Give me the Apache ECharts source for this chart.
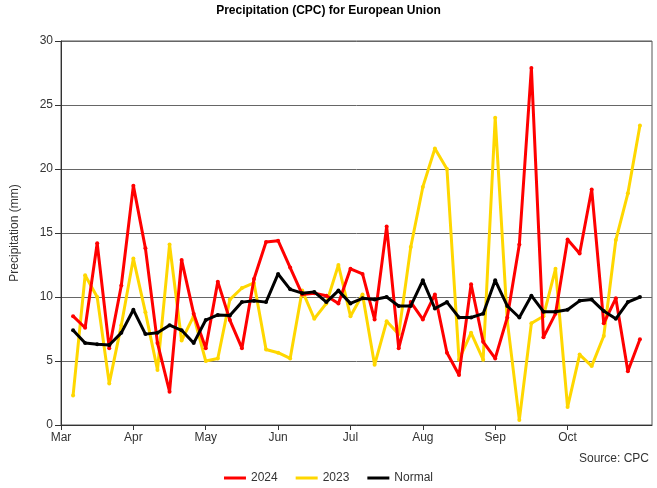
<!DOCTYPE html>
<html>
<head>
<meta charset="utf-8">
<script src="https://cdn.jsdelivr.net/npm/echarts@6/dist/echarts.min.js"></script>
<style>html,body{margin:0;padding:0;background:#fff;}#c{width:657px;height:488px;}</style>
</head>
<body>
<div id="c"></div>
<script>
// Pentad values (mm), Mar through early Nov
const pentads = Array.from({length: 48}, (_, i) => i);
const y2024 = [8.5,7.6,14.2,6.0,10.9,18.7,13.8,6.4,2.6,12.9,8.7,6.0,
  11.2,8.2,6.0,11.4,14.3,14.4,12.3,10.2,10.3,10.1,9.5,12.2,
  11.8,8.25,15.5,6.0,9.6,8.25,10.2,5.65,3.9,11.0,6.5,5.2,
  8.4,14.1,27.9,6.85,8.7,14.5,13.4,18.4,7.95,9.9,4.2,6.7];
const y2023 = [2.3,11.7,10.0,3.25,7.8,13.0,8.8,4.3,14.1,6.6,8.5,5.0,
  5.2,9.8,10.7,11.1,5.9,5.65,5.2,10.5,8.3,9.5,12.5,8.5,
  10.2,4.7,8.1,7.1,13.9,18.6,21.6,20.0,5.1,7.2,5.1,24.0,
  8.15,0.4,7.95,8.5,12.2,1.4,5.5,4.6,6.95,14.45,18.1,23.4];
const yNormal = [7.4,6.4,6.3,6.25,7.2,9.0,7.1,7.2,7.8,7.4,6.4,8.2,
  8.6,8.55,9.6,9.7,9.6,11.8,10.6,10.3,10.4,9.6,10.5,9.5,
  9.9,9.8,10.0,9.3,9.3,11.3,9.1,9.6,8.4,8.4,8.7,11.3,
  9.3,8.4,10.1,8.85,8.85,9.0,9.7,9.8,8.9,8.3,9.6,10.0];
const monthLabels = ['Mar','Apr','May','Jun','Jul','Aug','Sep','Oct'];
const monthPentads = [-1,5,11,17,23,29,35,41];
const yTicks = [0,5,10,15,20,25,30];

const chart = echarts.init(document.getElementById('c'), null, {renderer:'canvas'});
const FONT = 'Liberation Sans, Arial, sans-serif';
function mk(name, vals, color, z) {
  return {
    name: name, type: 'line', z: z,
    data: pentads.map((p, i) => [p, vals[i]]),
    symbol: 'circle', symbolSize: 4, showSymbol: true,
    lineStyle: {color: color, width: 3},
    itemStyle: {color: color},
    emphasis: {disabled: true},
    animation: false
  };
}
chart.setOption({
  animation: false,
  backgroundColor: '#fff',
  title: {
    text: 'Precipitation (CPC) for European Union',
    left: 'center', top: 0,
    textStyle: {fontFamily: FONT, fontSize: 12, fontWeight: 'bold', color: '#000'}
  },
  grid: {left: 61, right: 5, top: 41, bottom: 63, show: true, borderColor: '#555', borderWidth: 1, backgroundColor: 'transparent'},
  legend: {
    bottom: 4, left: 'center', padding: [0, 5],
    itemWidth: 22, itemHeight: 3, itemGap: 18, icon: 'rect',
    textStyle: {fontFamily: FONT, fontSize: 12, color: '#333'},
    data: ['2024','2023','Normal']
  },
  xAxis: {
    type: 'value', min: -1, max: 48,
    axisLine: {show: true, onZero: false, lineStyle: {color: '#333'}},
    axisTick: {show: true, inside: false, length: 5, lineStyle: {color: '#333'}, customValues: monthPentads},
    axisLabel: {
      show: true, color: '#333', fontFamily: FONT, fontSize: 12, margin: 7,
      customValues: monthPentads,
      formatter: function (v) { const k = monthPentads.indexOf(v); return k >= 0 ? monthLabels[k] : ''; }
    },
    splitLine: {show: false}
  },
  yAxis: {
    type: 'value', min: 0, max: 30, interval: 5,
    name: 'Precipitation (mm)', nameLocation: 'middle', nameGap: 40,
    nameTextStyle: {fontFamily: FONT, fontSize: 12, color: '#333'},
    axisLine: {show: true, onZero: false, lineStyle: {color: '#333'}},
    axisTick: {show: true, inside: false, length: 6, lineStyle: {color: '#333'}},
    axisLabel: {color: '#333', fontFamily: FONT, fontSize: 12, margin: 8},
    splitLine: {show: true, lineStyle: {color: '#666', width: 1}}
  },
  graphic: [{
    type: 'text', right: 8, top: 453,
    style: {text: 'Source: CPC', font: '12px ' + FONT, fill: '#333'}
  }],
  series: [
    mk('2024', y2024, '#ff0000', 3),
    mk('2023', y2023, '#ffd700', 2),
    mk('Normal', yNormal, '#000000', 4)
  ]
});
</script>
</body>
</html>
